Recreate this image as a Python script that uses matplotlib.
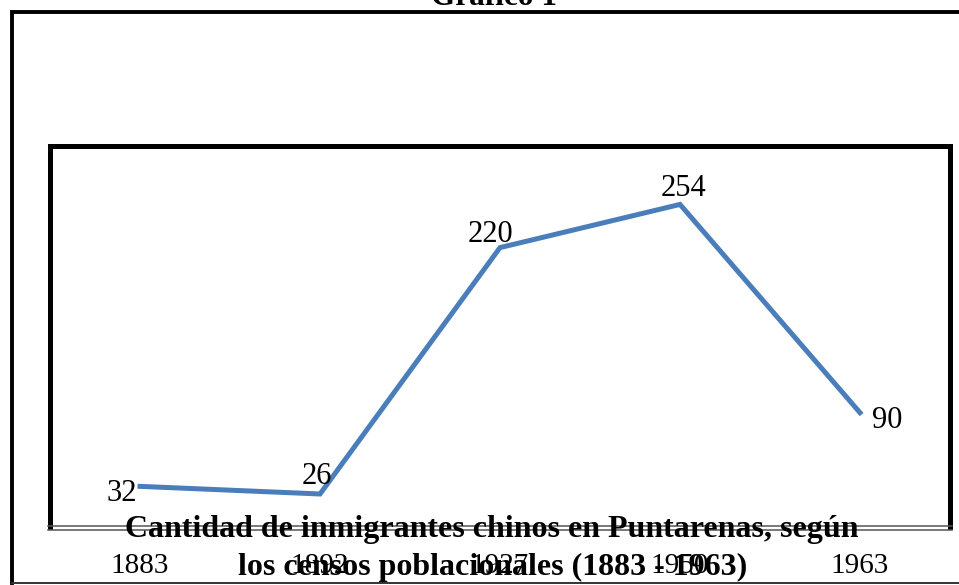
import matplotlib
matplotlib.use('Agg')
import matplotlib.pyplot as plt
from matplotlib.lines import Line2D

# Censos de población: inmigrantes chinos en Puntarenas
anios = ['1883', '1892', '1927', '1950', '1963']
inmigrantes = [32, 26, 220, 254, 90]

# desplazamiento de cada etiqueta de dato (pixeles) y alineacion
etiqueta_offset = [(-3, -15), (-3, 10), (-10, 6), (3, 8), (12, -15)]
etiqueta_ha = ['right', 'center', 'center', 'center', 'left']

plt.rcParams['font.family'] = ['Liberation Serif', 'DejaVu Serif']

W, H = 959, 585
fig = plt.figure(figsize=(W / 100, H / 100), dpi=100)
fig.patch.set_facecolor('white')

# marco exterior: izquierda y arriba gruesos, abajo fino
fig.add_artist(Line2D([12 / W, 12 / W, 965 / W], [1 - 583 / H, 1 - 11.5 / H, 1 - 11.5 / H],
                      color='black', linewidth=2.8, solid_joinstyle='miter'))
fig.add_artist(Line2D([12 / W, 965 / W], [1 - 583 / H] * 2, color='#333333', linewidth=1.4))

ax = fig.add_axes([50 / W, 1 - 527 / H, 900 / W, 381 / H])
x = list(range(len(anios)))
ax.plot(x, inmigrantes, color='#4A7EBB', linewidth=3.6, solid_joinstyle='miter')
ax.set_xlim(-0.5, len(anios) - 0.5)
ax.set_ylim(0, 300)
ax.set_yticks([])
ax.set_xticks(x)
ax.set_xticklabels(anios, fontsize=21)
ax.tick_params(axis='x', length=0, pad=19)
for s in ax.spines.values():
    s.set_linewidth(3.6)
    s.set_color('black')
ax.spines['bottom'].set_visible(False)

# borde inferior doble (gris)
for yb in (526, 529.5):
    fig.add_artist(Line2D([48 / W, 952 / W], [1 - yb / H] * 2, color='#555555',
                          linewidth=1.1))

for i, v in enumerate(inmigrantes):
    ax.annotate(str(v), (i, v), xytext=etiqueta_offset[i], textcoords='offset pixels',
                ha=etiqueta_ha[i], va='baseline', fontsize=22)

# titulos
fig.text(494 / W, 1 - 5 / H, 'Gráfico 1', ha='center', va='baseline',
         fontsize=22.5, fontweight='bold')
fig.text(492 / W, 1 - 537 / H, 'Cantidad de inmigrantes chinos en Puntarenas, según',
         ha='center', va='baseline', fontsize=23, fontweight='bold')
fig.text(493 / W, 1 - 575 / H, 'los censos poblacionales (1883 - 1963)',
         ha='center', va='baseline', fontsize=23, fontweight='bold')

fig.savefig('out.png', dpi=100)
